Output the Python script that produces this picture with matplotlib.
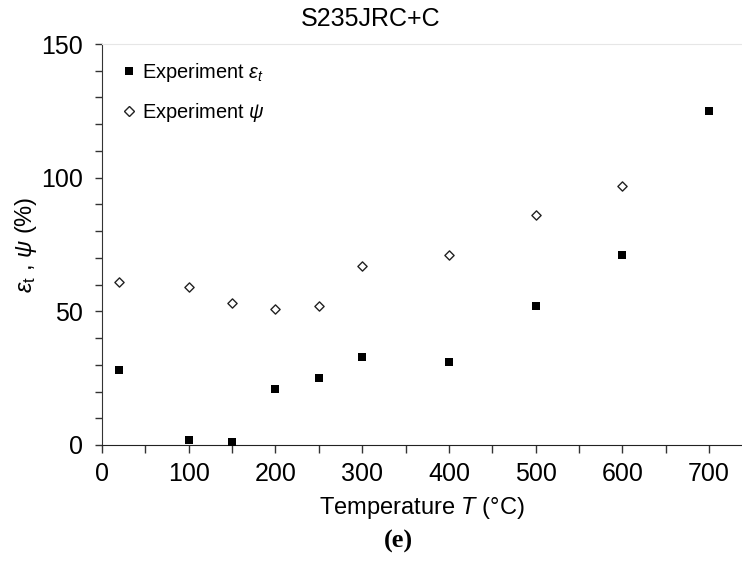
import numpy as np
import matplotlib
matplotlib.use("Agg")
import matplotlib.pyplot as plt
from matplotlib.ticker import MultipleLocator
from matplotlib.lines import Line2D

# data
temp_eps = [20, 100, 150, 200, 250, 300, 400, 500, 600, 700]
eps_t = [28, 2, 1.2, 21, 25, 33, 31, 52, 71, 125]
temp_psi = [20, 100, 150, 200, 250, 300, 400, 500, 600]
psi = [61, 59, 53, 51, 52, 67, 71, 86, 97]

plt.rcParams['font.family'] = ['Liberation Sans', 'DejaVu Sans']
plt.rcParams['mathtext.fontset'] = 'custom'
plt.rcParams['mathtext.rm'] = 'Liberation Sans'
plt.rcParams['mathtext.it'] = 'Liberation Sans:italic'

fig = plt.figure(figsize=(7.42, 5.69), dpi=100)
ax = fig.add_axes([102/742, 1 - 445/569, 640/742, 401/569])

ax.scatter(temp_eps, eps_t, marker='s', s=38, c='black', linewidths=0, zorder=3)
ax.scatter(temp_psi, psi, marker='D', s=22, facecolors='white',
           edgecolors='#222222', linewidths=1.0, zorder=3)

ax.set_xlim(0, 738)
ax.set_ylim(0, 150)
ax.xaxis.set_major_locator(MultipleLocator(100))
ax.xaxis.set_minor_locator(MultipleLocator(50))
ax.yaxis.set_major_locator(MultipleLocator(50))
ax.yaxis.set_minor_locator(MultipleLocator(10))

ax.tick_params(axis='x', which='both', direction='out', length=6, width=1, colors='#333333',
               labelsize=18, labelcolor='black', pad=6)
ax.tick_params(axis='y', which='both', direction='out', length=5, width=1, colors='#333333',
               labelsize=18, labelcolor='black', pad=9)

ax.spines['right'].set_visible(False)
ax.spines['top'].set_color('#e6e6e6')
ax.spines['left'].set_color('#333333')
ax.spines['bottom'].set_color('#222222')

# title is centred on the figure, not the axes
ax.set_title('S235JRC+C', fontsize=18, pad=13, x=(371 - 102) / 640)
ax.set_xlabel(r'Temperature $\mathit{T}$ (°C)', fontsize=17, labelpad=7)
ax.set_ylabel(r'$\varepsilon_{\mathrm{t}}$ , $\psi$ (%)', fontsize=17, labelpad=1)

handles = [
    Line2D([], [], ls='none', marker='s', ms=6, mfc='black', mec='black', mew=0),
    Line2D([], [], ls='none', marker='D', ms=5, mfc='white', mec='#222222', mew=1.0),
]
labels = [r'Experiment $\varepsilon_{\mathit{t}}$', r'Experiment $\psi$']
ax.legend(handles, labels, loc='upper left', bbox_to_anchor=(0.033, 0.957),
          frameon=False, fontsize=14.4, handlelength=0.6, handletextpad=0.35,
          labelspacing=0.85, borderpad=0, borderaxespad=0)

fig.text(398/742, 1 - 541/569, '(e)', ha='center', va='center',
         fontsize=19, fontweight='bold', family=['Liberation Serif', 'DejaVu Serif'])

fig.savefig('out.png', dpi=100)
